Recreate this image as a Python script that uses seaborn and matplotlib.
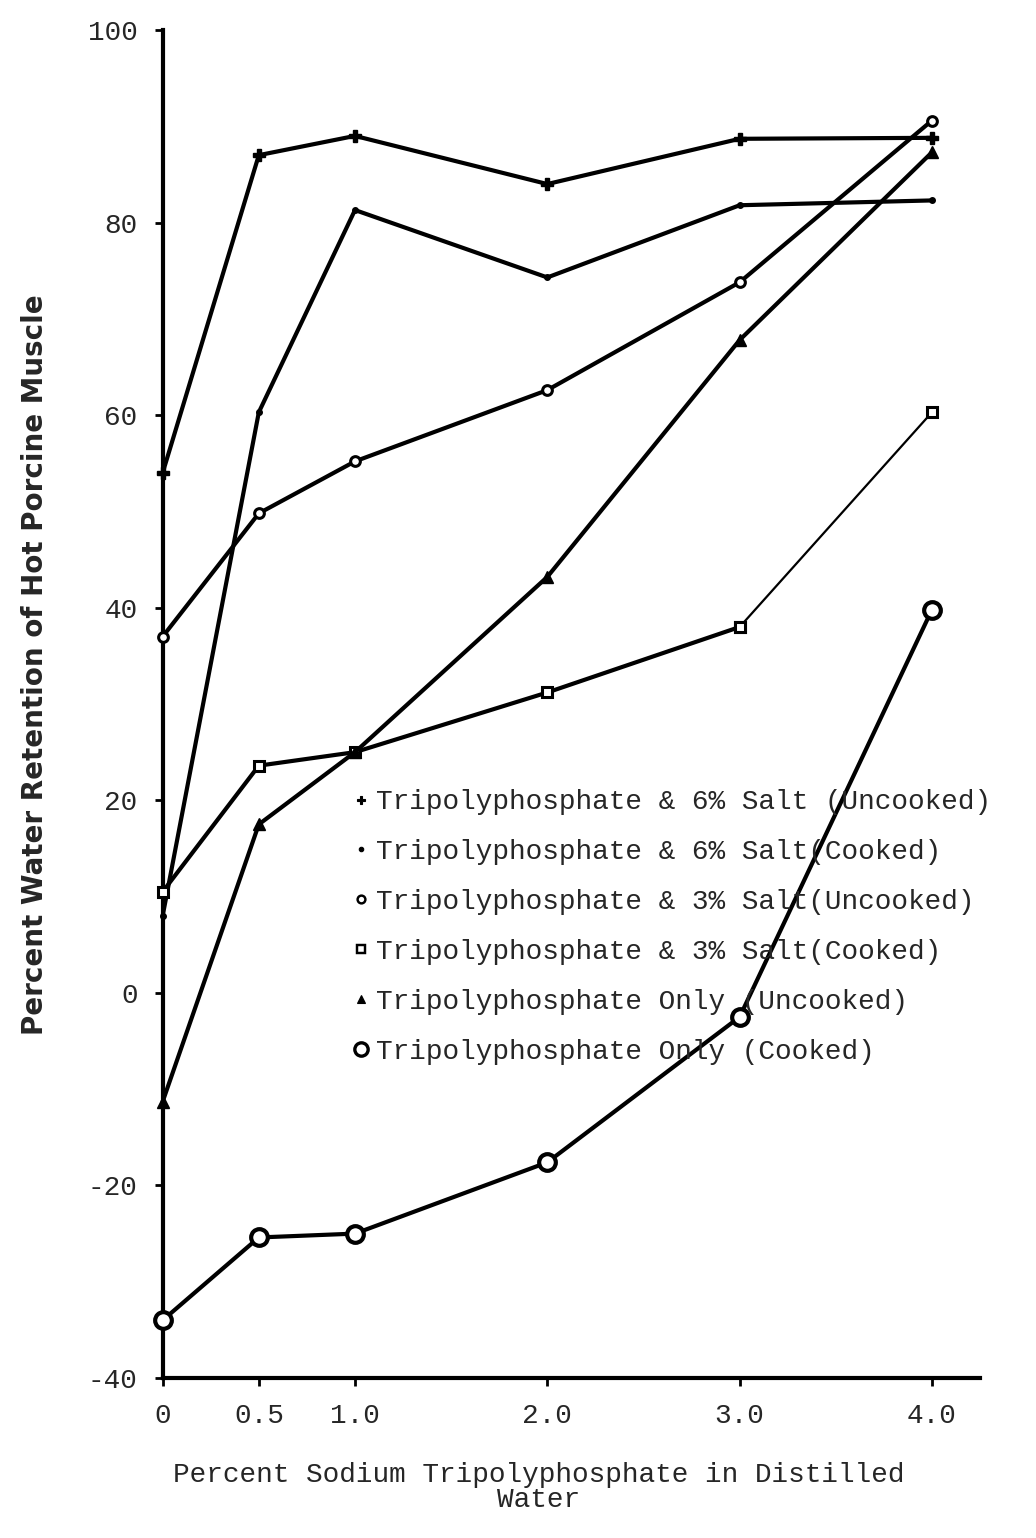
import matplotlib
matplotlib.use("Agg")
import matplotlib.pyplot as plt
import seaborn as sns
import pandas as pd
from matplotlib.lines import Line2D

# ---- data ----
x_levels = [0, 0.5, 1.0, 2.0, 3.0, 4.0]
x_tick_labels = ["0", "0.5", "1.0", "2.0", "3.0", "4.0"]
y_ticks = [100, 80, 60, 40, 20, 0, -20, -40]

salt6_uncooked = [54, 87, 89, 84, 88.7, 88.8]
salt6_cooked = [8, 60.3, 81.3, 74.3, 81.8, 82.3]
salt3_uncooked = [37, 49.8, 55.2, 62.6, 73.8, 90.6]
salt3_cooked = [10.5, 23.6, 25, 31.2, 38, 60.3]
tpp_uncooked = [-11.3, 17.5, 25, 43.2, 67.8, 87.3]
tpp_cooked = [-34, -25.4, -25, -17.6, -2.5, 39.8]

labels = [
    "Tripolyphosphate & 6% Salt (Uncooked)",
    "Tripolyphosphate & 6% Salt(Cooked)",
    "Tripolyphosphate & 3% Salt(Uncooked)",
    "Tripolyphosphate & 3% Salt(Cooked)",
    "Tripolyphosphate Only (Uncooked)",
    "Tripolyphosphate Only (Cooked)",
]
series = [salt6_uncooked, salt6_cooked, salt3_uncooked, salt3_cooked, tpp_uncooked, tpp_cooked]

sns.set_theme(style="ticks")
plt.rcParams["font.family"] = ["Liberation Mono", "DejaVu Sans"]

fig = plt.figure(figsize=(10.36, 15.38), dpi=100)
ax = fig.add_axes([0.157, 0.104, 0.789, 0.8765])

styles = [
    dict(marker="P", ms=8, mfc="black", mec="black", mew=1),
    dict(marker="o", ms=4, mfc="black", mec="black", mew=1),
    dict(marker="o", ms=7, mfc="white", mec="black", mew=2.2),
    dict(marker="s", ms=7, mfc="white", mec="black", mew=2.2),
    dict(marker="^", ms=8, mfc="black", mec="black", mew=1),
    dict(marker="o", ms=12, mfc="white", mec="black", mew=3),
]
# the last segment of the 3% cooked series is drawn with a thin line
thin_tail = [False, False, False, True, False, False]

for vals, st, thin in zip(series, styles, thin_tail):
    df = pd.DataFrame({"x": x_levels, "y": vals})
    kw = dict(color="black", marker=st["marker"], markersize=st["ms"],
              markerfacecolor=st["mfc"], markeredgecolor=st["mec"],
              markeredgewidth=st["mew"], clip_on=False, zorder=3)
    if thin:
        sns.lineplot(data=df.iloc[:-1], x="x", y="y", ax=ax, lw=3, **kw)
        sns.lineplot(data=df.iloc[-2:], x="x", y="y", ax=ax, lw=1.6, **kw)
    else:
        sns.lineplot(data=df, x="x", y="y", ax=ax, lw=3, **kw)

ax.set_xlim(0, 4.25)
ax.set_ylim(-40, 100)
ax.set_xticks(x_levels)
ax.set_xticklabels(x_tick_labels, fontsize=20)
ax.set_yticks(y_ticks)
ax.set_yticklabels([str(v) for v in y_ticks], fontsize=20)
ax.tick_params(axis="both", direction="out", length=6, width=2, color="black")
ax.tick_params(axis="y", pad=12)
ax.tick_params(axis="x", pad=12)
for s in ["top", "right"]:
    ax.spines[s].set_visible(False)
for s in ["left", "bottom"]:
    ax.spines[s].set_linewidth(3)
    ax.spines[s].set_color("black")
ax.set_xlabel("")
ax.set_ylabel("")

fig.text(0.034, 0.568, "Percent Water Retention of Hot Porcine Muscle",
         rotation=90, ha="center", va="center", fontsize=20,
         fontweight="bold", family="DejaVu Sans")
fig.text(0.52, 0.033, "Percent Sodium Tripolyphosphate in Distilled\nWater",
         ha="center", va="center", fontsize=20, linespacing=0.95)

handles = [Line2D([], [], linestyle="none", color="black", marker=st["marker"],
                  markersize=st["ms"] * 0.8, markerfacecolor=st["mfc"],
                  markeredgecolor=st["mec"], markeredgewidth=st["mew"] * 0.8)
           for st in styles]
leg = ax.legend(handles, labels, loc="upper left", bbox_to_anchor=(0.222, 0.445),
                frameon=False, fontsize=20, handlelength=0.4, handletextpad=0.35,
                labelspacing=0.86, borderaxespad=0)

fig.savefig("out.png", dpi=100, facecolor="white")
